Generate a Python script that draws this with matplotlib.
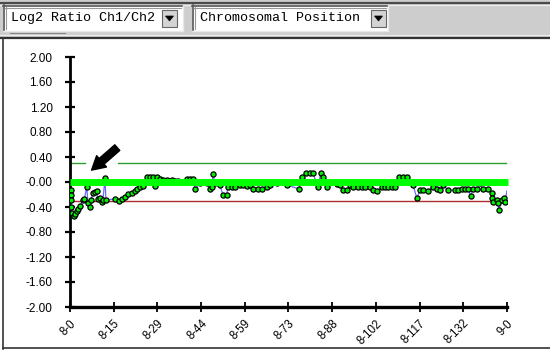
import numpy as np
import matplotlib
matplotlib.use('Agg')
import matplotlib.pyplot as plt
from matplotlib.patches import Rectangle, Polygon
from matplotlib.lines import Line2D

# chromosome 8 positions (Mb) and log2 ratios
pos_mb = [0.2, 0.2, 0.3, 0.5, 0.8, 1.3, 1.8, 2.3, 2.8, 3.5, 4.2, 4.8, 5.6, 6.0, 6.7,
          7.0, 7.7, 8.4, 9.0, 9.2, 10.0, 10.6, 11.0, 11.7, 12.0, 15.0, 16.4, 17.3,
          18.4, 19.4, 20.6, 21.7, 22.5, 23.4, 24.4, 25.7, 26.7, 27.7, 28.4, 29.0,
          30.1, 31.1, 32.3, 34.0, 35.1, 36.1, 39.0, 40.1, 41.1, 41.8, 43.4, 45.7,
          46.8, 47.3, 47.8, 48.4, 50.1, 51.1, 52.3, 52.8, 54.0, 55.1, 56.8, 57.8,
          59.0, 60.1, 61.1, 62.8, 64.1, 65.8, 66.8, 69.1, 72.5, 76.5, 77.5, 78.8,
          80.2, 81.2, 82.8, 83.8, 84.5, 85.8, 89.2, 90.2, 91.2, 92.5, 93.5, 94.5,
          96.2, 97.5, 98.5, 100.2, 101.2, 102.5, 104.2, 105.2, 106.2, 107.5, 108.6,
          109.9, 111.2, 112.6, 114.6, 115.9, 116.9, 117.9, 119.6, 121.2, 122.6,
          123.6, 124.6, 126.3, 128.6, 129.6, 130.9, 131.9, 132.9, 133.9, 134.6,
          135.9, 136.9, 137.9, 139.6, 141.0, 141.0, 141.3, 142.6, 143.0, 143.3,
          144.3, 145.0, 145.3]
log2_ratio = [-0.13, -0.21, -0.29, -0.40, -0.50, -0.54, -0.51, -0.46, -0.43, -0.38,
              -0.29, -0.27, -0.08, -0.34, -0.40, -0.29, -0.18, -0.16, -0.14, -0.27,
              -0.26, -0.32, -0.29, 0.06, -0.29, -0.27, -0.30, -0.27, -0.24, -0.19,
              -0.18, -0.14, -0.11, -0.08, -0.06, 0.08, 0.08, 0.08, -0.06, 0.08,
              0.05, 0.03, 0.03, 0.03, 0.02, 0.02, 0.05, 0.05, 0.05, -0.11, -0.02,
              -0.02, -0.11, -0.08, 0.13, -0.02, -0.05, -0.21, -0.21, -0.08, -0.08,
              -0.08, -0.05, -0.05, -0.06, -0.05, -0.11, -0.11, -0.11, -0.08, -0.05,
              -0.02, -0.05, -0.11, 0.08, 0.14, 0.14, 0.14, -0.08, 0.14, 0.08, -0.08,
              -0.03, -0.05, -0.13, -0.13, -0.05, -0.08, -0.08, -0.08, -0.08, -0.08,
              -0.13, -0.14, -0.08, -0.08, -0.08, -0.08, -0.08, 0.08, 0.08, 0.08,
              -0.05, -0.26, -0.13, -0.13, -0.14, -0.08, -0.11, -0.13, -0.05, -0.13,
              -0.13, -0.13, -0.11, -0.11, -0.11, -0.22, -0.11, -0.11, -0.02, -0.11,
              -0.11, -0.18, -0.26, -0.32, -0.29, -0.34, -0.45, -0.29, -0.26, -0.32]
line_end = (146.0, -0.14)

chrom_len = 146.0
tick_labels = ['8-0', '8-15', '8-29', '8-44', '8-59', '8-73', '8-88',
               '8-102', '8-117', '8-132', '9-0']
y_ticks = [2.0, 1.6, 1.2, 0.8, 0.4, 0.0, -0.4, -0.8, -1.2, -1.6, -2.0]
y_labels = ['2.00', '1.60', '1.20', '0.80', '0.40', '-0.00', '-0.40',
            '-0.80', '-1.20', '-1.60', '-2.00']
gain_thr, loss_thr = 0.30, -0.30

W, H = 550, 351
fig = plt.figure(figsize=(W / 100, H / 100), dpi=100)
fig.patch.set_facecolor('white')


def fx(x):
    return x / W


def fy(y):
    return 1 - y / H


def rect(x0, y0, x1, y1, **kw):
    fig.add_artist(Rectangle((fx(x0), fy(y1)), fx(x1) - fx(x0), fy(y0) - fy(y1),
                             transform=fig.transFigure, **kw))


def hline(x0, x1, y, color, lw=1.0):
    fig.add_artist(Line2D([fx(x0), fx(x1)], [fy(y), fy(y)], color=color, lw=lw,
                          transform=fig.transFigure))


def vline(x, y0, y1, color, lw=1.0):
    fig.add_artist(Line2D([fx(x), fx(x)], [fy(y0), fy(y1)], color=color, lw=lw,
                          transform=fig.transFigure))


# toolbar strip
rect(0, 0, W, 37, facecolor='#cdcdcd', edgecolor='none')
hline(0, W, 2.5, '#4a4a4a', 1.6)
hline(0, W, 4.5, '#eeeeee', 0.8)
hline(0, W, 35, '#eeeeee', 0.8)
hline(0, W, 37.5, '#333333', 1.6)
vline(3, 38, 349, '#333333', 1.2)
hline(3, W, 348, '#333333', 1.2)


def combo(x0, x1, btn0, text):
    rect(x0, 5, x1, 31, facecolor='white', edgecolor='none')
    hline(x0, x1, 5.5, '#555555', 1.2)
    vline(x0 + 0.5, 5, 31, '#555555', 1.2)
    hline(x0, x1, 30.5, '#e8e8e8', 1.0)
    vline(x1 - 0.5, 5, 31, '#e8e8e8', 1.0)
    hline(x0 + 2, x1 - 2, 7.5, '#999999', 0.8)
    vline(x0 + 2.5, 7, 29, '#999999', 0.8)
    rect(btn0, 10, btn0 + 15, 27, facecolor='#d4d4d4', edgecolor='#666666', lw=0.8)
    cx = btn0 + 7.5
    fig.add_artist(Polygon([[fx(cx - 4), fy(16)], [fx(cx + 4), fy(16)], [fx(cx), fy(21)]],
                           closed=True, facecolor='black', edgecolor='black', lw=0.5,
                           transform=fig.transFigure))
    fig.text(fx(x0 + 8), fy(18), text, family=['Liberation Mono', 'DejaVu Sans Mono'],
             fontsize=9.6, va='center', ha='left', color='black')


combo(3, 183, 162, 'Log2 Ratio Ch1/Ch2')
combo(192, 388, 371, 'Chromosomal Position')
hline(10, 65, 33, '#888888', 0.8)

# plot area
ax = fig.add_axes([fx(70), fy(307), fx(507) - fx(70), fy(57) - fy(307)])
ax.set_facecolor('white')
ax.set_xlim(0, chrom_len)
ax.set_ylim(-2, 2)
for s in ('top', 'right'):
    ax.spines[s].set_visible(False)
ax.spines['left'].set_linewidth(2.0)
ax.spines['bottom'].set_linewidth(2.4)

ax.set_yticks(y_ticks)
ax.set_yticklabels(y_labels, family=['Liberation Sans', 'DejaVu Sans'], fontsize=8.5)
ax.tick_params(axis='y', direction='inout', length=7, width=1.6, pad=9)

xt = np.linspace(0, chrom_len, len(tick_labels))
ax.set_xticks(xt)
ax.set_xticklabels(tick_labels, family=['Liberation Sans', 'DejaVu Sans'], fontsize=8.3,
                   rotation=45, ha='right', va='top', rotation_mode='anchor')
ax.tick_params(axis='x', direction='inout', length=7, width=1.3, pad=4)

# threshold lines
ax.plot([0.3, 5.0], [gain_thr, gain_thr], color='#2e9e2e', lw=1.0, clip_on=False)
ax.plot([16.0, 145.7], [gain_thr, gain_thr], color='#2e9e2e', lw=1.0, clip_on=False)
ax.plot([0, 140.3], [loss_thr, loss_thr], color='#b03030', lw=1.0)

# ratio profile
ax.plot(pos_mb + [line_end[0]], log2_ratio + [line_end[1]], color='#6a6aff', lw=0.9, zorder=3)
ax.plot(pos_mb, log2_ratio, ls='none', marker='o', ms=3.7, mfc='#00ee00', mec='black',
        mew=0.9, zorder=4)
ax.plot([0, 146.3], [0, 0], color='#00ff00', lw=5, zorder=5, solid_capstyle='butt',
        clip_on=False)

# arrow
ax.annotate('', xy=(7.2, 0.19), xytext=(15.8, 0.55),
            arrowprops=dict(arrowstyle='simple,head_width=0.9,head_length=0.8,tail_width=0.45',
                            color='black', mutation_scale=12, shrinkA=0, shrinkB=0),
            zorder=6)

fig.savefig('out.png', dpi=100)
